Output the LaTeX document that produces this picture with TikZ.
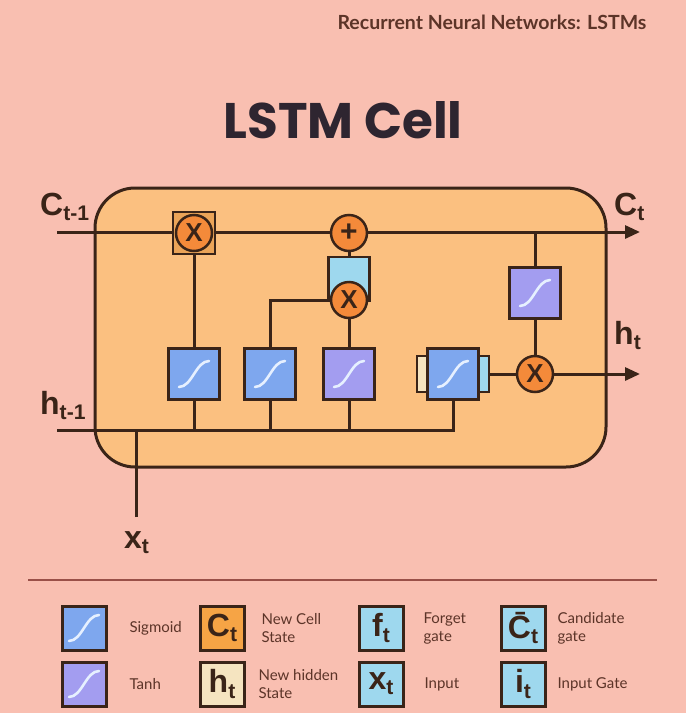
\documentclass[tikz,border=0pt]{standalone}
\usepackage{fontspec}
\setmainfont{Lato}
\newfontfamily\titlefont{Poppins}
\newfontfamily\lblfont{Liberation Sans}
\usetikzlibrary{positioning,backgrounds,arrows.meta}

\definecolor{bgc}{HTML}{F9BFB1}
\definecolor{cellc}{HTML}{FBC080}
\definecolor{wirec}{HTML}{3A2418}
\definecolor{sigc}{HTML}{7EA7EE}
\definecolor{tanhc}{HTML}{A39DF0}
\definecolor{opc}{HTML}{F48A3A}
\definecolor{sqc}{HTML}{EBA458}
\definecolor{bluec}{HTML}{9ED8EE}
\definecolor{creamc}{HTML}{F5E4C0}
\definecolor{orangec}{HTML}{F6A445}
\definecolor{curvec}{HTML}{E6F0FF}
\definecolor{legc}{HTML}{5C3428}
\definecolor{titlec}{HTML}{2E2530}
\definecolor{rulec}{HTML}{9A5048}

% subscript in labels
\newcommand{\lsub}[1]{\raisebox{-0.16em}{\fontsize{0.66em}{0.66em}\selectfont #1}}

\begin{document}
\begin{tikzpicture}[x=1pt, y=-1pt,
    wire/.style={draw=wirec, line width=3pt},
    arrwire/.style={wire, -{Triangle[length=15pt,width=13pt]}},
    scurve/.style={path picture={\draw[curvec, line width=2.6pt, line cap=round]
        ([shift={(-15,13)}]path picture bounding box.center) .. controls
        ([shift={(-2,13)}]path picture bounding box.center) and
        ([shift={(2,-13)}]path picture bounding box.center) ..
        ([shift={(15,-13)}]path picture bounding box.center);}},
    gatebox/.style={draw=wirec, line width=3pt, minimum width=51pt, minimum height=51pt, inner sep=0pt},
    sigbox/.style={gatebox, fill=sigc, scurve},
    tanhbox/.style={gatebox, fill=tanhc, scurve},
    op/.style={circle, draw=wirec, line width=2.5pt, fill=opc, minimum size=36pt, inner sep=0pt,
        font=\lblfont\bfseries\fontsize{26}{26}\selectfont, text=wirec},
    lbl/.style={font=\lblfont\bfseries\fontsize{32}{32}\selectfont, text=wirec, anchor=base west, inner sep=0pt},
    legbox/.style={draw=wirec, line width=3pt, minimum size=44pt, inner sep=0pt,
        font=\lblfont\bfseries\fontsize{32}{32}\selectfont, text=wirec},
    legtxt/.style={font=\fontsize{15}{18}\selectfont, text=legc, align=left, anchor=west}
  ]

% Page and cell
\useasboundingbox (0,0) rectangle (686,713);
\begin{scope}[on background layer]
  \fill[bgc] (0,0) rectangle (686,713);
  \draw[wirec, line width=3pt, fill=cellc, rounded corners=40pt] (95,188) rectangle (606,467);
\end{scope}

% Titles
\node[font=\bfseries\fontsize{19.5}{19.5}\selectfont, text=legc] (subtitle) at (492,22) {Recurrent Neural Networks: LSTMs};
\node[font=\titlefont\bfseries\fontsize{50}{50}\selectfont, text=titlec] (title) at (343,120) {LSTM Cell};

% Gate layers
\node[sigbox] (fg) at (194,374) {};
\node[sigbox] (ig) at (270,374) {};
\node[tanhbox] (cg) at (349,374) {};
\node[draw=wirec, line width=2pt, fill=creamc, minimum width=14pt, minimum height=36pt, inner sep=0pt] (ogl) at (424,374) {};
\node[draw=wirec, line width=2pt, fill=bluec, minimum width=14pt, minimum height=36pt, inner sep=0pt] (ogr) at (482,374) {};
\node[sigbox] (og) at (453,374) {};
\node[tanhbox] (ot) at (535,293) {};

% Pointwise operations
\node[draw=wirec, line width=1.5pt, fill=sqc, minimum size=42pt, inner sep=0pt] (fsq) at (194,233) {};
\node[op] (fmul) at (194,233) {X};
\node[draw=wirec, line width=2.5pt, fill=bluec, minimum width=41pt, minimum height=44pt, inner sep=0pt] (crect) at (349,279) {};
\node[op, font=\lblfont\bfseries\fontsize{30}{30}\selectfont] (add) at (349,233) {+};
\node[op] (imul) at (349,300) {X};
\node[op] (omul) at (535,374) {X};

% Free ends
\coordinate (cin) at (57,232);
\coordinate (cout) at (640,232);
\coordinate (hin) at (57,430);
\coordinate (hout) at (640,374);
\coordinate (xin) at (136,517);

% Wires
\begin{scope}[on background layer]
  \draw[arrwire] (cin) -- (cout);
  \draw[wire] (hin) -- (og.south |- hin) -- (og.south);
  \draw[wire] (xin) -- (xin |- hin);
  \foreach \g in {fg,ig,cg}
    \draw[wire] (\g.south) -- (\g.south |- hin);
  \draw[wire] (fg.north) -- (fmul);
  \draw[wire] (ig.north) |- (imul);
  \draw[wire] (cg.north) -- (imul);
  \draw[wire] (add) -- (crect);
  \draw[wire] (ogr) -- (omul);
  \draw[arrwire] (omul) -- (hout);
  \draw[wire] (ot) -- (omul);
  \draw[wire] (ot) -- (ot |- cin);
\end{scope}

% Labels
\node[lbl] (cprev) at (40,215) {C\lsub{t-1}};
\node[lbl] (cnext) at (614,215) {C\lsub{t}};
\node[lbl] (hprev) at (40,414) {h\lsub{t-1}};
\node[lbl] (hnext) at (614,344) {h\lsub{t}};
\node[lbl] (xlbl) at (124,548) {x\lsub{t}};

% Legend
\draw[rulec, line width=2pt] (28,580) -- (657,580);

\node[legbox, fill=sigc, scurve] (lsig) at (84,628) {};
\node[legbox, fill=tanhc, scurve] (ltanh) at (84,684) {};
\node[legbox, fill=orangec] (lc) at (222,628) {C\lsub{t}};
\node[legbox, fill=creamc] (lh) at (222,684) {h\lsub{t}};
\node[legbox, fill=bluec] (lf) at (381,628) {f\lsub{t}};
\node[legbox, fill=bluec] (lx) at (381,684) {x\lsub{t}};
\node[legbox, fill=bluec] (lcand) at (523,628) {\={C}\lsub{t}};
\node[legbox, fill=bluec] (li) at (523,684) {i\lsub{t}};

\node[legtxt] (tsig) at (126,628) {Sigmoid};
\node[legtxt] (ttanh) at (126,684) {Tanh};
\node[legtxt] (tc) at (258,628) {New Cell\\State};
\node[legtxt] (th) at (255,684) {New hidden\\State};
\node[legtxt] (tf) at (420,628) {Forget\\gate};
\node[legtxt] (tx) at (421,684) {Input};
\node[legtxt] (tcand) at (554,628) {Candidate\\gate};
\node[legtxt] (ti) at (554,684) {Input Gate};

\end{tikzpicture}
\end{document}
